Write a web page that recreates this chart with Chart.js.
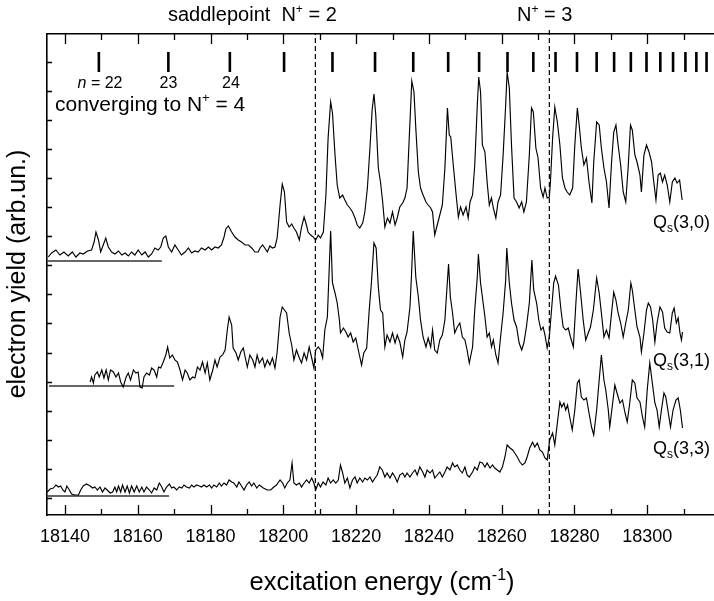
<!DOCTYPE html>
<html>
<head>
<meta charset="utf-8">
<script src="https://cdn.jsdelivr.net/npm/chart.js@4.4.0/dist/chart.umd.min.js"></script>
<style>
  html, body { margin: 0; padding: 0; background: #fff; overflow: hidden; }
  canvas { display: block; }
</style>
</head>
<body>
<canvas id="spectrum" width="720" height="601"></canvas>
<script>
// excitation energy (cm-1) vs electron yield (arb. units), three spectra offset vertically
const xTickLabels = [18140, 18160, 18180, 18200, 18220, 18240, 18260, 18280, 18300];
const yTickStep = 29.1;

// Rydberg series n = 22, 23, 24, ... converging to N+ = 4
const rydbergMarks = [18149.3, 18168.4, 18185.3, 18200.2, 18213.5, 18225.2, 18235.7, 18245.3,
  18253.8, 18261.6, 18268.7, 18274.8, 18280.7, 18286.1, 18290.9, 18295.5, 18299.8, 18303.6,
  18307.1, 18310.5, 18313.5, 18316.3];

// saddle point N+ = 2 and threshold N+ = 3
const thresholds = [18208.8, 18273.1];

// zero lines of the three offset spectra [from, to, level]
const zeroLines = [[18135.1, 18166.6, 237], [18135.6, 18170.0, 112], [18135.1, 18168.6, 2]];

const qs30 = [
  [18135.4,241],[18136.3,245],[18137.5,248],[18138.6,243],[18139.7,246],[18140.9,242],[18142.0,246],
  [18143.0,241],[18144.1,245],[18145.0,244],[18146.2,247],[18147.3,248],[18148.0,256],[18148.5,266],
  [18149.2,258],[18149.8,246],[18150.5,253],[18151.2,260],[18151.9,251],[18152.8,246],[18153.7,244],
  [18154.7,247],[18155.6,243],[18156.5,245],[18157.4,242],[18158.3,246],[18159.2,243],[18160.1,248],
  [18161.1,243],[18162.0,246],[18162.9,241],[18163.8,244],[18164.7,250],[18165.6,248],[18166.3,251],
  [18167.0,260],[18167.7,262],[18168.4,251],[18169.3,246],[18170.2,253],[18171.1,248],[18172.0,243],
  [18173.0,246],[18173.9,250],[18174.8,245],[18175.7,247],[18176.6,246],[18177.5,250],[18178.5,248],
  [18179.4,251],[18180.3,248],[18181.2,251],[18182.1,250],[18183.0,253],[18183.7,261],[18184.2,269],
  [18184.9,272],[18185.8,266],[18186.7,261],[18187.6,258],[18188.5,256],[18189.5,253],[18190.4,253],
  [18191.3,250],[18192.2,246],[18193.1,246],[18193.6,250],[18194.3,253],[18194.9,250],[18195.6,246],
  [18196.3,252],[18197.0,250],[18197.7,251],[18198.3,260],[18199.1,293],[18199.7,314],[18200.3,306],
  [18200.9,276],[18201.6,271],[18202.3,274],[18202.9,270],[18203.6,266],[18204.4,258],[18205.0,271],
  [18205.7,281],[18206.2,275],[18206.8,266],[18207.5,263],[18208.2,261],[18208.9,258],[18209.6,263],
  [18210.2,260],[18211.0,266],[18211.7,303],[18212.3,360],[18213.0,396],[18213.5,385],[18214.2,343],
  [18214.8,313],[18215.5,300],[18216.3,303],[18216.9,298],[18217.6,293],[18218.3,290],[18219.0,286],
  [18219.7,280],[18220.3,273],[18221.0,270],[18221.8,275],[18222.4,286],[18223.1,310],[18223.8,350],
  [18224.4,388],[18224.9,404],[18225.4,383],[18226.1,330],[18226.7,316],[18227.3,296],[18227.9,271],
  [18228.6,280],[18229.3,275],[18230.0,286],[18230.7,273],[18231.3,280],[18232.0,291],[18232.8,295],
  [18233.4,300],[18234.0,310],[18234.6,360],[18235.3,417],[18235.9,406],[18236.4,370],[18237.1,326],
  [18237.7,310],[18238.4,303],[18239.2,296],[18239.8,293],[18240.5,290],[18241.0,286],[18241.6,263],
  [18242.3,273],[18243.0,283],[18243.7,293],[18244.4,330],[18245.1,390],[18245.6,363],[18246.0,361],
  [18246.7,333],[18247.4,306],[18248.1,281],[18248.7,291],[18249.4,283],[18250.2,291],[18250.8,280],
  [18251.3,296],[18252.0,303],[18252.6,333],[18253.3,393],[18253.7,421],[18254.2,406],[18254.7,353],
  [18255.4,346],[18256.0,316],[18256.6,293],[18257.2,300],[18257.7,290],[18258.4,280],[18259.0,296],
  [18259.7,303],[18260.4,343],[18261.1,393],[18261.5,426],[18262.1,410],[18262.7,353],[18263.4,300],
  [18264.1,296],[18264.8,290],[18265.5,296],[18266.1,286],[18266.8,296],[18267.6,343],[18268.2,390],
  [18268.7,386],[18269.4,350],[18270.0,340],[18270.7,310],[18271.4,301],[18271.9,310],[18272.5,300],
  [18273.1,301],[18273.4,316],[18274.0,360],[18274.6,391],[18275.3,376],[18276.0,353],[18276.7,320],
  [18277.4,310],[18278.0,306],[18278.7,303],[18279.5,310],[18280.1,353],[18280.8,390],[18281.3,373],
  [18281.9,350],[18282.6,333],[18283.3,340],[18284.0,316],[18284.8,295],[18285.3,336],[18286.1,376],
  [18286.8,373],[18287.4,350],[18288.1,330],[18288.8,316],[18289.5,290],[18290.2,336],[18290.8,366],
  [18291.4,373],[18292.0,353],[18292.7,333],[18293.4,306],[18294.1,296],[18294.8,333],[18295.4,373],
  [18295.9,368],[18296.6,343],[18297.2,336],[18298.0,323],[18298.4,306],[18299.1,343],[18299.8,353],
  [18300.5,346],[18301.2,336],[18301.8,316],[18302.4,298],[18303.0,323],[18303.6,325],[18304.2,316],
  [18304.8,323],[18305.5,313],[18306.2,296],[18306.9,316],[18307.6,320],[18308.2,315],[18308.9,318],
  [18309.6,298]
];

const qs31 = [
  [18146.9,116],[18147.3,121],[18147.8,115],[18148.2,123],[18148.9,126],[18149.4,121],[18150.1,128],
  [18150.7,120],[18151.3,128],[18151.9,118],[18152.5,128],[18153.3,126],[18154.0,121],[18154.7,125],
  [18155.3,116],[18156.0,111],[18156.8,121],[18157.4,125],[18158.0,118],[18158.8,128],[18159.5,125],
  [18160.1,126],[18160.6,111],[18161.2,110],[18161.7,121],[18162.4,125],[18163.2,123],[18163.8,130],
  [18164.5,128],[18165.2,121],[18165.7,131],[18166.3,130],[18167.0,136],[18167.7,143],[18168.2,151],
  [18168.8,140],[18169.5,143],[18170.2,138],[18170.9,136],[18171.6,128],[18172.3,118],[18173.0,128],
  [18173.6,125],[18174.3,118],[18175.1,121],[18175.7,120],[18176.4,131],[18177.1,128],[18177.8,136],
  [18178.5,125],[18179.1,135],[18179.8,118],[18180.6,128],[18181.2,138],[18181.8,131],[18182.6,141],
  [18183.3,143],[18184.0,148],[18184.6,168],[18185.1,181],[18185.8,173],[18186.2,150],[18187.0,145],
  [18187.6,138],[18188.3,146],[18189.0,150],[18189.5,141],[18190.1,131],[18190.8,143],[18191.6,138],
  [18192.2,131],[18192.8,143],[18193.4,135],[18194.3,140],[18194.9,131],[18195.6,138],[18196.3,133],
  [18197.0,140],[18197.7,130],[18198.3,146],[18199.1,181],[18199.7,191],[18200.3,188],[18200.9,185],
  [18201.6,165],[18202.3,153],[18202.9,138],[18203.6,148],[18204.4,140],[18205.0,135],[18205.7,145],
  [18206.4,138],[18207.1,151],[18207.8,140],[18208.4,130],[18208.9,148],[18209.6,151],[18210.2,148],
  [18210.8,140],[18211.4,168],[18212.1,181],[18213.0,267],[18213.5,215],[18214.2,205],[18214.8,195],
  [18215.4,178],[18215.7,165],[18216.5,170],[18217.2,166],[18217.8,161],[18218.5,165],[18219.2,156],
  [18219.9,160],[18220.6,148],[18221.5,133],[18222.1,145],[18222.9,150],[18223.6,188],[18224.2,215],
  [18224.9,255],[18225.5,250],[18226.1,211],[18226.7,188],[18227.3,185],[18227.9,151],[18228.5,163],
  [18229.3,156],[18230.0,165],[18230.7,155],[18231.3,163],[18232.0,156],[18232.8,141],[18233.4,158],
  [18234.0,166],[18234.8,191],[18235.2,221],[18235.7,267],[18236.4,221],[18237.1,201],[18237.7,178],
  [18238.4,161],[18239.2,151],[18239.8,160],[18240.5,151],[18241.0,168],[18241.6,148],[18242.3,145],
  [18243.0,158],[18243.7,163],[18244.4,178],[18244.8,201],[18245.4,234],[18245.9,201],[18246.5,185],
  [18247.1,165],[18247.8,171],[18248.5,175],[18249.2,161],[18249.9,158],[18250.5,148],[18251.1,135],
  [18252.0,151],[18252.6,188],[18253.3,221],[18253.6,244],[18254.2,215],[18254.7,201],[18255.4,181],
  [18256.0,161],[18256.6,165],[18257.2,151],[18257.7,158],[18258.4,143],[18259.0,135],[18259.7,161],
  [18260.4,185],[18261.1,218],[18261.4,250],[18262.1,215],[18262.7,195],[18263.4,178],[18264.1,171],
  [18264.8,155],[18265.5,148],[18266.1,155],[18266.8,171],[18267.6,195],[18268.3,238],[18268.8,208],
  [18269.6,195],[18270.2,178],[18270.8,168],[18271.4,171],[18271.9,163],[18272.5,150],[18273.1,161],
  [18273.7,188],[18274.3,215],[18274.8,222],[18275.6,213],[18276.3,188],[18276.9,171],[18277.6,168],
  [18278.3,170],[18278.9,161],[18279.7,151],[18280.4,195],[18281.0,229],[18281.7,205],[18282.4,178],
  [18283.1,158],[18283.8,165],[18284.4,171],[18285.2,188],[18286.1,220],[18286.8,205],[18287.4,185],
  [18288.1,161],[18288.8,168],[18289.5,160],[18290.2,185],[18290.8,206],[18291.4,198],[18292.0,185],
  [18292.7,175],[18293.4,161],[18294.1,175],[18294.8,188],[18295.5,215],[18295.9,208],[18296.6,188],
  [18297.2,171],[18298.0,161],[18298.4,146],[18299.1,165],[18299.8,188],[18300.3,195],[18300.9,191],
  [18301.5,178],[18302.1,156],[18302.7,175],[18303.5,191],[18304.2,186],[18304.8,170],[18305.5,166],
  [18306.2,165],[18306.9,185],[18307.4,190],[18308.0,175],[18308.5,180],[18309.0,165],[18309.4,158],
  [18309.7,166]
];

const qs33 = [
  [18135.1,6],[18135.9,9],[18136.8,10],[18137.5,13],[18138.2,11],[18138.8,12],[18139.4,8],[18140.0,6],
  [18140.5,12],[18141.2,8],[18141.8,4],[18142.7,3],[18143.7,3],[18144.3,8],[18145.0,12],[18145.9,14],
  [18146.9,12],[18147.6,10],[18148.2,11],[18148.9,8],[18149.6,11],[18150.3,6],[18151.0,10],[18151.6,8],
  [18152.4,5],[18153.1,6],[18153.7,11],[18154.2,6],[18154.7,12],[18155.3,6],[18155.8,13],[18156.5,6],
  [18157.1,12],[18157.7,5],[18158.3,12],[18159.0,6],[18159.7,12],[18160.4,6],[18161.1,11],[18161.7,6],
  [18162.4,11],[18163.2,8],[18163.8,5],[18164.5,10],[18165.2,8],[18165.9,15],[18166.6,11],[18167.2,6],
  [18167.9,11],[18168.7,14],[18169.3,10],[18169.9,11],[18170.7,8],[18171.4,11],[18172.1,10],[18172.7,13],
  [18173.4,11],[18174.2,10],[18174.8,13],[18175.4,11],[18176.2,13],[18176.9,12],[18177.5,11],[18178.2,13],
  [18178.9,11],[18179.7,13],[18180.3,10],[18180.9,13],[18181.7,11],[18182.4,15],[18183.0,12],[18183.7,15],
  [18184.4,13],[18185.1,18],[18185.8,16],[18186.4,15],[18187.2,11],[18187.8,16],[18188.5,12],[18189.2,8],
  [18189.9,13],[18190.6,16],[18191.3,12],[18191.9,15],[18192.7,10],[18193.4,13],[18194.5,10],[18195.6,8],
  [18196.5,8],[18197.4,11],[18198.1,13],[18199.1,18],[18199.8,15],[18200.4,10],[18201.1,15],[18201.8,18],
  [18202.4,35],[18202.9,15],[18203.6,13],[18204.4,15],[18205.0,11],[18205.7,15],[18206.4,18],[18207.1,15],
  [18207.8,20],[18208.4,15],[18208.9,8],[18209.6,15],[18210.2,11],[18210.9,16],[18211.7,13],[18212.3,20],
  [18213.0,15],[18213.7,18],[18214.4,15],[18215.1,18],[18215.7,33],[18216.3,25],[18216.9,15],[18217.6,20],
  [18218.3,10],[18219.0,18],[18219.7,21],[18220.3,15],[18221.0,20],[18221.8,16],[18222.4,20],[18223.1,18],
  [18223.8,21],[18224.5,16],[18225.2,20],[18225.8,23],[18226.5,31],[18227.2,28],[18227.9,21],[18228.5,25],
  [18229.3,20],[18230.0,25],[18230.7,21],[18231.3,16],[18232.0,23],[18232.8,25],[18233.4,21],[18234.0,25],
  [18234.8,21],[18235.5,25],[18236.2,28],[18236.8,23],[18237.5,31],[18238.3,26],[18238.9,21],[18239.5,28],
  [18240.3,25],[18241.0,28],[18241.6,20],[18242.3,23],[18243.0,26],[18243.7,21],[18244.4,26],[18245.0,31],
  [18245.8,28],[18246.5,35],[18247.1,31],[18247.8,33],[18248.5,28],[18249.2,25],[18249.9,31],[18250.5,23],
  [18251.1,21],[18252.0,26],[18252.6,31],[18253.3,28],[18254.0,36],[18254.7,35],[18255.4,31],[18256.0,35],
  [18256.8,30],[18257.5,33],[18258.1,30],[18258.8,28],[18259.5,26],[18260.2,31],[18260.9,41],[18261.5,53],
  [18262.3,50],[18263.0,48],[18263.6,45],[18264.3,41],[18265.0,36],[18265.7,33],[18266.4,35],[18267.0,41],
  [18267.7,50],[18268.5,56],[18269.1,51],[18269.8,55],[18270.5,48],[18271.2,46],[18271.9,40],[18272.5,38],
  [18273.2,58],[18274.0,65],[18274.6,53],[18275.3,75],[18276.0,96],[18276.5,91],[18277.1,95],[18277.6,88],
  [18278.1,93],[18278.7,81],[18279.4,68],[18280.1,88],[18280.8,115],[18281.3,118],[18281.9,101],[18282.6,98],
  [18283.3,100],[18284.0,85],[18284.7,71],[18285.3,63],[18286.1,88],[18286.8,118],[18287.4,143],[18288.1,118],
  [18288.6,108],[18289.3,88],[18289.7,71],[18290.5,95],[18291.1,113],[18291.7,105],[18292.5,95],[18293.2,98],
  [18293.9,85],[18294.5,76],[18295.2,95],[18295.9,118],[18296.6,115],[18297.2,100],[18298.0,96],[18298.7,81],
  [18299.3,71],[18300.0,108],[18300.7,135],[18301.4,115],[18302.1,95],[18302.7,88],[18303.3,71],[18303.9,88],
  [18304.6,105],[18305.1,101],[18305.8,85],[18306.4,71],[18307.1,88],[18307.9,98],[18308.5,100],[18309.1,88],
  [18309.7,70]
];

const FONT = "'Liberation Sans', Arial, Helvetica, sans-serif";
const X_MIN = 18135.05, X_MAX = 18320, Y_MIN = -17, Y_MAX = 464;

function toPoints(pairs) {
  return pairs.map(p => ({ x: p[0], y: p[1] }));
}

function traceSet(pairs) {
  return { data: toPoints(pairs), borderColor: '#000', borderWidth: 1.15, pointRadius: 0, tension: 0, xAxisID: 'x', yAxisID: 'y' };
}

// short vertical bars, gaps between them
let markData = [];
rydbergMarks.forEach(v => {
  markData.push({ x: v, y: 426 }, { x: v, y: 446 }, { x: v, y: null });
});

let zeroSets = zeroLines.map(z => ({
  data: [{ x: z[0], y: z[2] }, { x: z[1], y: z[2] }],
  borderColor: '#333', borderWidth: 1.5, pointRadius: 0, xAxisID: 'x', yAxisID: 'y'
}));

let dashSets = thresholds.map((v, i) => ({
  data: [{ x: v, y: Y_MIN }, { x: v, y: i == 1 ? 471 : Y_MAX }],
  borderColor: '#000', borderWidth: 1.2, borderDash: [5, 3], pointRadius: 0, clip: false,
  xAxisID: 'x', yAxisID: 'y'
}));

function drawRich(ctx, parts, x, y, align) {
  let total = 0;
  parts.forEach(p => {
    ctx.font = (p[3] ? 'italic ' : '') + p[1] + 'px ' + FONT;
    total += ctx.measureText(p[0]).width;
  });
  let cx = align == 'center' ? x - total / 2 : (align == 'right' ? x - total : x);
  parts.forEach(p => {
    ctx.font = (p[3] ? 'italic ' : '') + p[1] + 'px ' + FONT;
    ctx.fillText(p[0], cx, y + p[2]);
    cx += ctx.measureText(p[0]).width;
  });
}

const frameExtras = {
  id: 'frameExtras',
  afterDraw(chart) {
    const { ctx, chartArea, scales } = chart;
    const xs = scales.x, ys = scales.y;
    ctx.save();
    // inward tick marks
    ctx.strokeStyle = '#000';
    ctx.lineWidth = 1.3;
    ctx.beginPath();
    for (let v = 18140; v <= X_MAX; v += 10) {
      const px = Math.round(xs.getPixelForValue(v)) + 0.5;
      const len = (v % 20 == 0) ? 10 : 6;
      ctx.moveTo(px, chartArea.bottom);
      ctx.lineTo(px, chartArea.bottom - len);
      ctx.moveTo(px, chartArea.top);
      ctx.lineTo(px, chartArea.top + len);
    }
    for (let k = 0; k <= 15; k++) {
      const py = Math.round(ys.getPixelForValue(k * yTickStep)) + 0.5;
      ctx.moveTo(chartArea.left, py);
      ctx.lineTo(chartArea.left + 5, py);
    }
    ctx.stroke();

    ctx.fillStyle = '#000';
    ctx.textBaseline = 'alphabetic';
    // headings above the frame
    drawRich(ctx, [['saddlepoint  N', 20, 0], ['+', 12, -8], [' = 2', 20, 0]], 168, 21, 'left');
    drawRich(ctx, [['N', 20, 0], ['+', 12, -8], [' = 3', 20, 0]], 517, 21, 'left');
    // series labels
    drawRich(ctx, [['n', 16, 0, true], [' = 22', 16, 0]], 100, 88, 'center');
    drawRich(ctx, [['23', 16, 0]], 168.5, 88, 'center');
    drawRich(ctx, [['24', 16, 0]], 231, 88, 'center');
    drawRich(ctx, [['converging to N', 21, 0], ['+', 13, -9], [' = 4', 21, 0]], 55, 111, 'left');
    // spectrum names
    drawRich(ctx, [['Q', 18, 0], ['s', 12, 4], ['(3,0)', 18, 0]], 653, 228, 'left');
    drawRich(ctx, [['Q', 18, 0], ['s', 12, 4], ['(3,1)', 18, 0]], 653, 366, 'left');
    drawRich(ctx, [['Q', 18, 0], ['s', 12, 4], ['(3,3)', 18, 0]], 653, 454, 'left');
    // axis titles
    drawRich(ctx, [['excitation energy (cm', 25.5, 0], ['-1', 16, -10], [')', 25.5, 0]], 382, 590, 'center');
    ctx.translate(25, 274);
    ctx.rotate(-Math.PI / 2);
    drawRich(ctx, [['electron yield (arb.un.)', 25, 0]], 0, 0, 'center');
    ctx.restore();
  }
};

const frameBorder = { display: true, color: '#000', width: 1.6 };

new Chart(document.getElementById('spectrum'), {
  type: 'line',
  data: {
    datasets: [
      traceSet(qs30),
      traceSet(qs31),
      traceSet(qs33),
      ...zeroSets,
      ...dashSets,
      { data: markData, borderColor: '#000', borderWidth: 2.6, pointRadius: 0, spanGaps: false, xAxisID: 'x', yAxisID: 'y' }
    ]
  },
  options: {
    responsive: false,
    animation: false,
    events: [],
    layout: { padding: 0 },
    plugins: { legend: { display: false }, tooltip: { enabled: false } },
    scales: {
      x: {
        type: 'linear', position: 'bottom', min: X_MIN, max: X_MAX,
        afterFit: s => { s.height = 86; },
        afterBuildTicks: s => { s.ticks = xTickLabels.map(v => ({ value: v })); },
        grid: { display: false, drawTicks: false },
        border: frameBorder,
        ticks: { autoSkip: false, maxRotation: 0, padding: 11, color: '#000', font: { family: FONT, size: 18 }, callback: v => String(v) }
      },
      xTop: {
        type: 'linear', position: 'top', min: X_MIN, max: X_MAX,
        afterFit: s => { s.height = 34; },
        grid: { display: false, drawTicks: false },
        border: frameBorder,
        ticks: { display: false }
      },
      y: {
        type: 'linear', position: 'left', min: Y_MIN, max: Y_MAX,
        afterFit: s => { s.width = 47; },
        grid: { display: false, drawTicks: false },
        border: frameBorder,
        ticks: { display: false }
      }
    }
  },
  plugins: [frameExtras]
});
</script>
</body>
</html>
